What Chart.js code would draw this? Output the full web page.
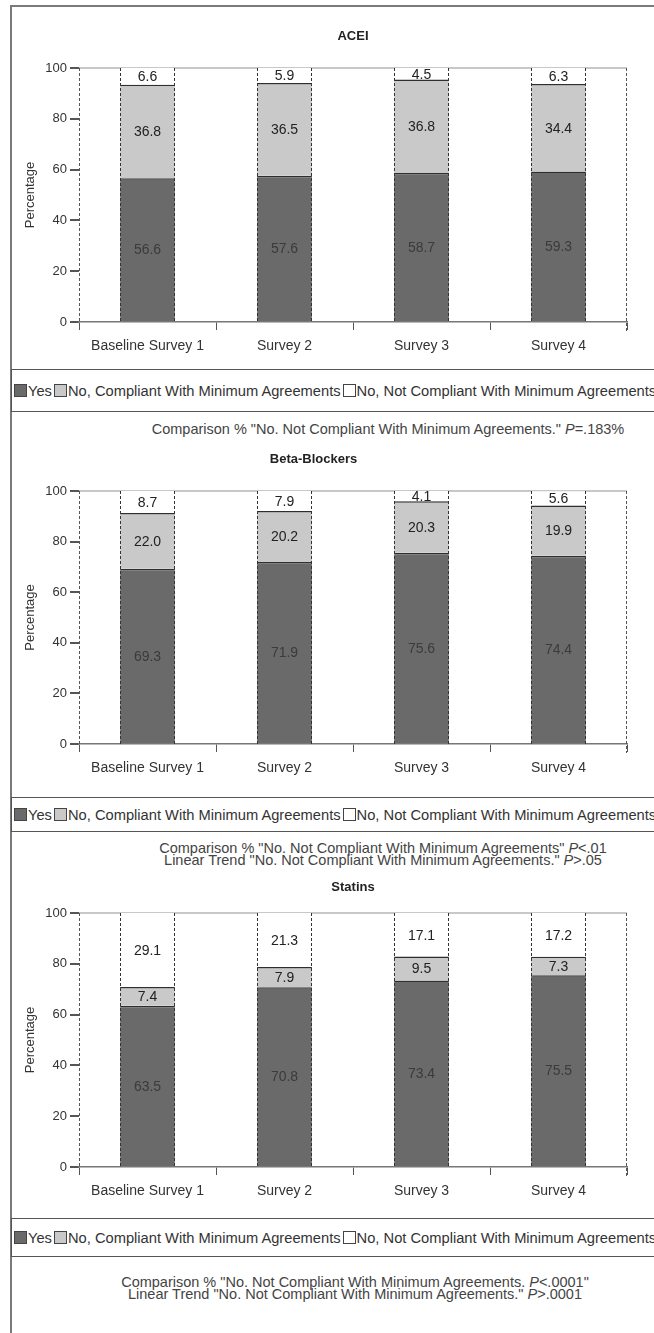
<!DOCTYPE html>
<html>
<head>
<meta charset="utf-8">
<script src="https://cdn.jsdelivr.net/npm/chart.js@4.4.0/dist/chart.umd.min.js"></script>
<style>
body { margin: 0; background: #fff; font-family: 'Liberation Sans', Arial, sans-serif; color: #333; }
#page { position: relative; width: 654px; height: 1333px; overflow: hidden; background: #fff; }
.frame-l { position: absolute; left: 10px; top: 5px; width: 2px; height: 1328px; background: #7a7a7a; }
.frame-t { position: absolute; left: 10px; top: 5px; width: 644px; height: 2px; background: #7a7a7a; }
canvas { position: absolute; left: 0; }
.legend { position: absolute; left: 11px; width: 720px; box-sizing: border-box; border: 1.5px solid #555; border-right: none;
          display: flex; align-items: center; white-space: nowrap; font-size: 14.7px; color: #333; }
.sw { display: inline-block; width: 11px; height: 11px; border: 1px solid #444; margin: 0 1px 0 2px; flex: none; }
.note { position: absolute; width: 640px; text-align: center; font-size: 14.5px; line-height: 11.5px; color: #444; white-space: nowrap; }
</style>
</head>
<body>
<div id="page">
  <div class="frame-l"></div>
  <div class="frame-t"></div>
</div>
<script>
const categories = ['Baseline Survey 1', 'Survey 2', 'Survey 3', 'Survey 4'];
const seriesNames = ['Yes', 'No, Compliant With Minimum Agreements', 'No, Not Compliant With Minimum Agreements'];
const yTicks = [0, 20, 40, 60, 80, 100];

const aceiYes = [56.6, 57.6, 58.7, 59.3];
const aceiCompliant = [36.8, 36.5, 36.8, 34.4];
const aceiNotCompliant = [6.6, 5.9, 4.5, 6.3];

const betaYes = [69.3, 71.9, 75.6, 74.4];
const betaCompliant = [22.0, 20.2, 20.3, 19.9];
const betaNotCompliant = [8.7, 7.9, 4.1, 5.6];

const statinYes = [63.5, 70.8, 73.4, 75.5];
const statinCompliant = [7.4, 7.9, 9.5, 7.3];
const statinNotCompliant = [29.1, 21.3, 17.1, 17.2];

const aceiNotes = ['Comparison % "No. Not Compliant With Minimum Agreements." <i>P</i>=.183%'];
const betaNotes = ['Comparison % "No. Not Compliant With Minimum Agreements" <i>P</i>&lt;.01',
                   'Linear Trend "No. Not Compliant With Minimum Agreements." <i>P</i>&gt;.05'];
const statinNotes = ['Comparison % "No. Not Compliant With Minimum Agreements. <i>P</i>&lt;.0001"',
                     'Linear Trend "No. Not Compliant With Minimum Agreements." <i>P</i>&gt;.0001'];

const panels = [
    { title: 'ACEI', series: [aceiYes, aceiCompliant, aceiNotCompliant], notes: aceiNotes },
    { title: 'Beta-Blockers', series: [betaYes, betaCompliant, betaNotCompliant], notes: betaNotes },
    { title: 'Statins', series: [statinYes, statinCompliant, statinNotCompliant], notes: statinNotes }
];

// page positions of each panel (px)
const layoutPos = [
    { titleY: 36, plotTop: 68, plotBottom: 322, titleOverPlot: true, legTop: 369, legBottom: 412, noteY: 430, noteX: 388 },
    { titleY: 459, plotTop: 491, plotBottom: 744, titleOverPlot: false, legTop: 797, legBottom: 832, noteY: 849, noteX: 383 },
    { titleY: 887, plotTop: 913, plotBottom: 1167, titleOverPlot: true, legTop: 1218, legBottom: 1257, noteY: 1283, noteX: 355 }
];

const fills = ['#6a6a6a', '#c9c9c9', '#ffffff'];
const labelColors = ['#3b3b3b', '#222', '#222'];
const PLOT_LEFT = 79, PLOT_RIGHT = 627, XAXIS_H = 40;

Chart.defaults.font.family = "'Liberation Sans', Arial, sans-serif";
Chart.defaults.color = '#333';

function dashedV(ctx, x, y0, y1) {
    ctx.beginPath();
    ctx.moveTo(x, y0);
    ctx.lineTo(x, y1);
    ctx.stroke();
}

const barDecor = {
    id: 'barDecor',
    afterDatasetsDraw(chart) {
        const { ctx, scales: { y }, chartArea } = chart;
        const top = y.getPixelForValue(100), bottom = y.getPixelForValue(0);
        ctx.save();
        ctx.setLineDash([3, 2]);
        ctx.lineWidth = 1;
        ctx.strokeStyle = '#333';
        chart.getDatasetMeta(0).data.forEach(el => {
            dashedV(ctx, Math.round(el.x - el.width / 2) + 0.5, top, bottom);
            dashedV(ctx, Math.round(el.x + el.width / 2) - 0.5, top, bottom);
        });
        ctx.strokeStyle = '#555';
        dashedV(ctx, Math.round(chartArea.left) + 0.5, top, bottom + 1);
        dashedV(ctx, Math.round(chartArea.right) - 0.5, top, bottom + 9);
        ctx.setLineDash([]);

        ctx.font = "14px 'Liberation Sans', Arial, sans-serif";
        ctx.textAlign = 'center';
        ctx.textBaseline = 'middle';
        chart.data.datasets.forEach((ds, i) => {
            chart.getDatasetMeta(i).data.forEach((el, j) => {
                ctx.fillStyle = labelColors[i];
                ctx.fillText(ds.data[j].toFixed(1), el.x, (el.y + el.base) / 2 + 1);
            });
        });
        ctx.restore();
    }
};

const page = document.getElementById('page');

panels.forEach((p, k) => {
    const L = layoutPos[k];
    const canvasTop = L.titleY - 14;
    const height = L.plotBottom - canvasTop + XAXIS_H;
    const canvas = document.createElement('canvas');
    canvas.width = 654;
    canvas.height = height;
    canvas.style.top = canvasTop + 'px';
    canvas.style.width = '654px';
    canvas.style.height = height + 'px';
    page.appendChild(canvas);

    const titleLine = 13 * 1.2;
    const padTop = 14 - titleLine / 2;
    const padBottom = (L.plotTop - canvasTop) - padTop - titleLine;

    new Chart(canvas, {
        type: 'bar',
        data: {
            labels: categories,
            datasets: p.series.map((vals, i) => ({
                label: seriesNames[i],
                data: vals,
                backgroundColor: fills[i],
                borderColor: '#2e2e2e',
                borderWidth: i < 2 ? { top: 1.5, left: 0, right: 0, bottom: 0 } : 0,
                borderSkipped: false,
                barPercentage: 0.4,
                categoryPercentage: 1.0
            }))
        },
        options: {
            responsive: false,
            animation: false,
            devicePixelRatio: 1,
            layout: { padding: { left: 0, right: 654 - PLOT_RIGHT, top: 0, bottom: 0 } },
            plugins: {
                legend: { display: false },
                tooltip: { enabled: false },
                title: {
                    display: true,
                    text: p.title,
                    fullSize: !L.titleOverPlot,
                    color: '#222',
                    font: { size: 13, weight: 'bold' },
                    padding: { top: padTop, bottom: padBottom }
                }
            },
            scales: {
                x: {
                    stacked: true,
                    afterFit: s => { s.height = XAXIS_H; },
                    border: { display: true, color: '#777', width: 1.5 },
                    grid: { offset: true, color: 'rgba(0,0,0,0)', tickColor: '#555', tickLength: 8, lineWidth: 1 },
                    ticks: { color: '#333', font: { size: 14 }, padding: 8, maxRotation: 0 }
                },
                y: {
                    stacked: true,
                    min: 0,
                    max: 100,
                    afterFit: s => { s.width = PLOT_LEFT; },
                    afterBuildTicks: s => { s.ticks = yTicks.map(v => ({ value: v })); },
                    border: { display: false },
                    grid: {
                        color: c => c.tick && c.tick.value === 100 ? '#c8c8c8' : 'rgba(0,0,0,0)',
                        lineWidth: 2,
                        tickColor: '#555',
                        tickLength: 9
                    },
                    ticks: { color: '#333', font: { size: 13 }, padding: 3 },
                    title: {
                        display: true,
                        text: 'Percentage',
                        color: '#333',
                        font: { size: 13 },
                        padding: { top: 23, bottom: 0 }
                    }
                }
            }
        },
        plugins: [barDecor]
    });

    const leg = document.createElement('div');
    leg.className = 'legend';
    leg.style.top = L.legTop + 'px';
    leg.style.height = (L.legBottom - L.legTop) + 'px';
    leg.innerHTML = seriesNames.map((n, i) =>
        `<span class="sw" style="background:${fills[i]}"></span><span>${n}</span>`).join('');
    page.appendChild(leg);

    p.notes.forEach((t, i) => {
        const d = document.createElement('div');
        d.className = 'note';
        d.style.left = (L.noteX - 320) + 'px';
        d.style.top = (L.noteY - 6 + i * 11.5) + 'px';
        d.innerHTML = t;
        page.appendChild(d);
    });
});
</script>
</body>
</html>
